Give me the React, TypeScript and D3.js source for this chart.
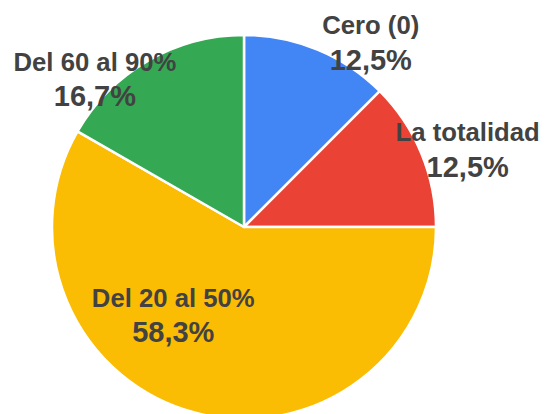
import React, { useRef, useEffect } from 'react';
import * as d3 from 'd3';

const categories = ['Cero (0)', 'La totalidad', 'Del 20 al 50%', 'Del 60 al 90%'];
const values = [12.5, 12.5, 58.3, 16.7];
const colors = ['#4285f4', '#ea4335', '#fbbc04', '#34a853'];
// label nudges from the slice centroid (first line baseline)
const labelOffsets = [[90, -104], [135, -49], [-46, -13], [-101, -73]];

const width = 547;
const height = 414;

const App = () => {
  const ref = useRef(null);

  useEffect(() => {
    const root = d3.select(ref.current);
    root.selectAll('*').remove();

    const svg = root.append('svg')
      .attr('width', width)
      .attr('height', height)
      .style('display', 'block');

    svg.append('rect').attr('width', width).attr('height', height).attr('fill', '#fff');

    const r = 192;
    const g = svg.append('g').attr('transform', 'translate(244,227)');

    const pie = d3.pie().sort(null).value((d) => d);
    const arcs = pie(values);
    const arc = d3.arc().innerRadius(0).outerRadius(r);

    g.selectAll('path')
      .data(arcs)
      .enter()
      .append('path')
      .attr('d', arc)
      .attr('fill', (d, i) => colors[i])
      .attr('stroke', '#fff')
      .attr('stroke-width', 2.5)
      .attr('stroke-linejoin', 'round');

    const fmt = (v) => d3.format('.1f')(v).replace('.', ',') + '%';

    const labels = g.selectAll('g.lbl')
      .data(arcs)
      .enter()
      .append('g')
      .attr('class', 'lbl')
      .attr('transform', (d, i) => {
        const [cx, cy] = arc.centroid(d);
        return `translate(${cx + labelOffsets[i][0]},${cy + labelOffsets[i][1]})`;
      })
      .attr('text-anchor', 'middle')
      .style('font-family', '"Liberation Sans", Arial, sans-serif')
      .style('font-weight', 'bold')
      .attr('fill', '#424242');

    labels.append('text')
      .style('font-size', '25.7px')
      .text((d, i) => categories[i]);

    labels.append('text')
      .attr('y', 35.5)
      .style('font-size', '29px')
      .text((d) => fmt(d.data));
  }, []);

  return <div ref={ref} style={{ position: 'fixed', left: 0, top: 0 }}></div>;
};

export default App;
